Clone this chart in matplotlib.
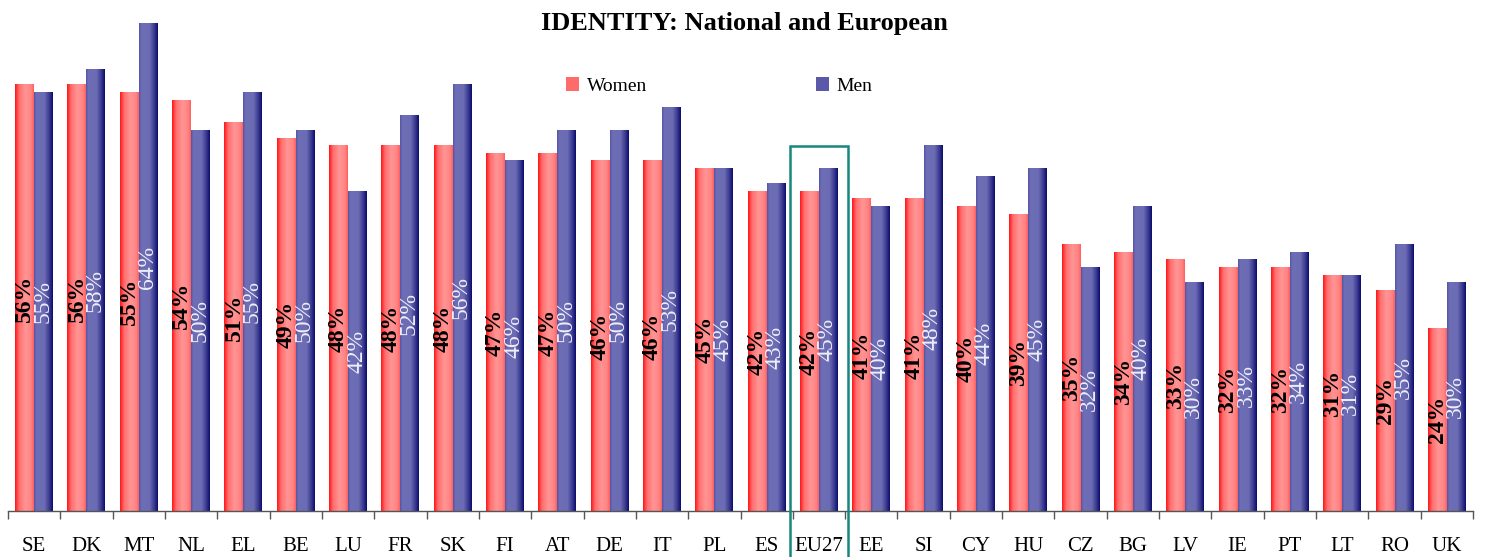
import numpy as np
import matplotlib
matplotlib.use("Agg")
import matplotlib.pyplot as plt
from matplotlib.colors import LinearSegmentedColormap
from matplotlib.patches import Patch, Rectangle
from matplotlib.ticker import FixedLocator

plt.rcParams['font.family'] = ['Liberation Serif', 'DejaVu Serif']

title = "IDENTITY: National and European"
countries = ["SE", "DK", "MT", "NL", "EL", "BE", "LU", "FR", "SK", "FI", "AT", "DE", "IT", "PL",
             "ES", "EU27", "EE", "SI", "CY", "HU", "CZ", "BG", "LV", "IE", "PT", "LT", "RO", "UK"]
women = [56, 56, 55, 54, 51, 49, 48, 48, 48, 47, 47, 46, 46, 45,
         42, 42, 41, 41, 40, 39, 35, 34, 33, 32, 32, 31, 29, 24]
men = [55, 58, 64, 50, 55, 50, 42, 52, 56, 46, 50, 50, 53, 45,
       43, 45, 40, 48, 44, 45, 32, 40, 30, 33, 34, 31, 35, 30]
series_names = ["Women", "Men"]
highlight = "EU27"

W, H = 1488, 557
fig = plt.figure(figsize=(W / 100, H / 100), dpi=100)
ax = fig.add_axes([8 / W, 1 - 511 / H, (1473 - 8) / W, (511 - 10) / H])

red_cmap = LinearSegmentedColormap.from_list(
    "redg", [(0, "#ff1414"), (0.22, "#ff6e6e"), (0.55, "#ff9595"), (0.85, "#ff8484"), (1, "#ff5c5c")])
blue_cmap = LinearSegmentedColormap.from_list(
    "blueg", [(0, "#5252a2"), (0.12, "#6e6eb6"), (0.55, "#6c6cb4"), (0.8, "#3c3c92"), (1, "#0a0a6c")])

x = np.arange(len(countries))
bw = 0.363
bars_w = ax.bar(x - bw / 2, women, width=bw, facecolor="none", edgecolor="none", zorder=2)
bars_m = ax.bar(x + bw / 2, men, width=bw, facecolor="none", edgecolor="none", zorder=2)

grad = np.linspace(0, 1, 256).reshape(1, -1)
for bars, cmap in ((bars_w, red_cmap), (bars_m, blue_cmap)):
    for b in bars:
        bx, by = b.get_xy()
        ax.imshow(grad, cmap=cmap, extent=(bx, bx + b.get_width(), by, by + b.get_height()),
                  aspect="auto", interpolation="bilinear", zorder=2)

for i in range(len(countries)):
    ax.text(x[i] - bw / 2, women[i] / 2, f"{women[i]}%", rotation=90, ha="center", va="center",
            fontsize=17, fontweight="bold", color="black", zorder=3)
    ax.text(x[i] + bw / 2 - 0.02, men[i] / 2, f"{men[i]}%", rotation=90, ha="center", va="center",
            fontsize=17, color="#eeeef8", zorder=3)

ax.set_xlim(-0.5, len(countries) - 0.5)
ax.set_ylim(0, 501 / 7.61)

for s in ("top", "right", "left"):
    ax.spines[s].set_visible(False)
ax.spines["bottom"].set_color("#555555")
ax.spines["bottom"].set_linewidth(1.0)
ax.set_yticks([])
ax.set_xticks(x)
ax.set_xticklabels(countries, fontsize=15)
ax.tick_params(axis="x", which="major", length=0, pad=18.5)
ax.xaxis.set_minor_locator(FixedLocator(np.arange(-0.5, len(countries), 1.0)))
ax.tick_params(axis="x", which="minor", length=6, direction="out", color="#555555", width=1.0)

# highlight box around EU27
hi = countries.index(highlight)
rect = Rectangle((hi - 0.554, -10), 1.108, 48 + 10, fill=False, edgecolor="#16877f",
                 linewidth=1.8, clip_on=False, zorder=4)
ax.add_patch(rect)

fig.text(744 / W, 1 - 23.5 / H, title, ha="center", va="center", fontsize=19, fontweight="bold")

handles = [Patch(facecolor="#ff6a6a", edgecolor="none"), Patch(facecolor="#5a5aa8", edgecolor="none")]
fig.legend(handles, series_names, loc="center left", bbox_to_anchor=(566 / W, 1 - 86 / H),
           ncol=2, frameon=False, fontsize=14, handlelength=0.68, handleheight=0.68,
           handletextpad=0.38, columnspacing=8.7, borderpad=0, borderaxespad=0)

fig.savefig("out.png", dpi=100)
